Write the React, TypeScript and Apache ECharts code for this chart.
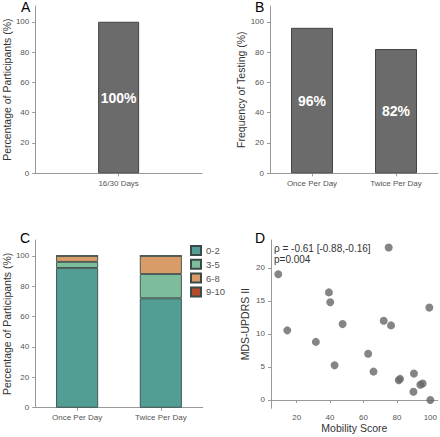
import React, { useEffect, useRef } from "react";
import * as echarts from "echarts";

const dayCategories = ["16/30 Days"];
const participantValues = [100];
const freqCategories = ["Once Per Day", "Twice Per Day"];
const freqValues = [96, 82];
const stackCategories = ["Once Per Day", "Twice Per Day"];
const binNames = ["0-2", "3-5", "6-8", "9-10"];
const bin02 = [92, 72];
const bin35 = [4, 16];
const bin68 = [4, 12];
const bin910 = [0, 0];
const binColors = ["#529e95", "#7dbd9b", "#d99b67", "#b34a2c"];
const mobilityScore = [9, 75.1, 14.4, 39.3, 40.1, 47.5, 31.5, 62.8, 72.1, 76.5, 99.4, 42.7, 66, 81.1, 81.9, 90.2, 89.9, 94, 95.4, 100];
const updrsII = [19.05, 23.1, 10.55, 16.3, 14.8, 11.5, 8.8, 7.0, 12.0, 11.3, 14.0, 5.26, 4.3, 3.0, 3.2, 4.0, 1.26, 2.3, 2.5, 0];
const pctTicks = [0, 20, 40, 60, 80, 100];
const updrsTicks = [0, 5, 10, 15, 20];
const mobilityTicks = [20, 40, 60, 80, 100];
const annotationLines = ["ρ = -0.61 [-0.88,-0.16]", "p=0.004"];
const panelLetters = ["A", "B", "C", "D"];

const FONT = "'Liberation Sans', Arial, sans-serif";
const AXIS_COLOR = "#999";
const LABEL_COLOR = "#555";
const NAME_COLOR = "#333";

function valueAxis(gridIndex: number, name: string, min: number, max: number, ticks: number[], nameGap: number, extra: any = {}) {
  return {
    type: "value",
    gridIndex,
    min,
    max,
    name,
    nameLocation: "middle",
    nameGap,
    nameTextStyle: { fontFamily: FONT, fontSize: 10.5, color: NAME_COLOR },
    splitLine: { show: false },
    axisLine: { show: true, lineStyle: { color: AXIS_COLOR, width: 1 } },
    axisTick: { show: true, length: 3, lineStyle: { color: AXIS_COLOR }, customValues: ticks },
    axisLabel: { fontFamily: FONT, fontSize: 8, color: LABEL_COLOR, margin: 6, customValues: ticks },
    ...extra,
  };
}

function categoryAxis(gridIndex: number, data: string[]) {
  return {
    type: "category",
    gridIndex,
    data,
    axisLine: { show: true, lineStyle: { color: AXIS_COLOR, width: 1 } },
    axisTick: { show: true, length: 3, alignWithLabel: true, lineStyle: { color: AXIS_COLOR } },
    axisLabel: { fontFamily: FONT, fontSize: 8, color: LABEL_COLOR, margin: 6 },
    splitLine: { show: false },
  };
}

const greyBarStyle = { color: "#6b6b6b", borderColor: "#444", borderWidth: 1 };
const barLabel = {
  show: true,
  position: "inside",
  formatter: "{c}%",
  color: "#fff",
  fontSize: 14,
  fontWeight: "bold",
  fontFamily: FONT,
};

export default function App() {
  const ref = useRef<HTMLDivElement>(null);
  useEffect(() => {
    if (!ref.current) return;
    const chart = echarts.init(ref.current, null, { renderer: "svg" });
    const pctMax = 110.4;
    const option: any = {
      animation: false,
      backgroundColor: "#fff",
      grid: [
        { left: 35, top: 6, width: 167, height: 167.3 },
        { left: 270, top: 6, width: 168, height: 167.3 },
        { left: 35, top: 240, width: 167.7, height: 167.7 },
        { left: 271, top: 240, width: 167, height: 168.3 },
      ],
      xAxis: [
        categoryAxis(0, dayCategories),
        categoryAxis(1, freqCategories),
        categoryAxis(2, stackCategories),
        valueAxis(3, "Mobility Score", 4.66, 104.4, mobilityTicks, 13, { axisLabel: { fontFamily: FONT, fontSize: 8, color: LABEL_COLOR, margin: 5, customValues: mobilityTicks } }),
      ],
      yAxis: [
        valueAxis(0, "Percentage of Participants (%)", 0, pctMax, pctTicks, 18),
        valueAxis(1, "Frequency of Testing (%)", 0, pctMax, pctTicks, 24),
        valueAxis(2, "Percentage of Participants (%)", 0, pctMax, pctTicks, 18),
        valueAxis(3, "MDS-UPDRS II", -1.26, 24.24, updrsTicks, 21),
      ],
      legend: {
        left: 190,
        top: 245,
        padding: 0,
        orient: "vertical",
        itemWidth: 10,
        itemHeight: 9,
        itemGap: 2.8,
        icon: "rect",
        data: binNames,
        textStyle: { fontFamily: FONT, fontSize: 9.5, lineHeight: 9, color: LABEL_COLOR, padding: [0, 0, 0, 0] },
      },
      series: [
        {
          type: "bar",
          xAxisIndex: 0,
          yAxisIndex: 0,
          data: participantValues,
          barWidth: 41,
          itemStyle: greyBarStyle,
          label: barLabel,
        },
        {
          type: "bar",
          xAxisIndex: 1,
          yAxisIndex: 1,
          data: freqValues,
          barWidth: 42,
          itemStyle: greyBarStyle,
          label: barLabel,
        },
        ...[bin02, bin35, bin68, bin910].map((vals, i) => ({
          type: "bar",
          name: binNames[i],
          xAxisIndex: 2,
          yAxisIndex: 2,
          stack: "bins",
          data: vals,
          barWidth: 42,
          itemStyle: { color: binColors[i], borderColor: "#3a4a48", borderWidth: 0.9 },
        })),
        {
          type: "scatter",
          xAxisIndex: 3,
          yAxisIndex: 3,
          data: mobilityScore.map((m, i) => [m, updrsII[i]]),
          symbolSize: 8,
          itemStyle: { color: "#666" },
        },
      ],
      graphic: [
        { type: "text", left: 21, top: 0, style: { text: panelLetters[0], fontFamily: FONT, fontSize: 14, fill: "#000" } },
        { type: "text", left: 255, top: 0, style: { text: panelLetters[1], fontFamily: FONT, fontSize: 14, fill: "#000" } },
        { type: "text", left: 20, top: 231, style: { text: panelLetters[2], fontFamily: FONT, fontSize: 14, fill: "#000" } },
        { type: "text", left: 255, top: 231, style: { text: panelLetters[3], fontFamily: FONT, fontSize: 14, fill: "#000" } },
        {
          type: "text",
          left: 274,
          top: 243,
          style: { text: annotationLines.join("\n"), fontFamily: FONT, fontSize: 10, lineHeight: 11, fill: "#333" },
        },
      ],
    };
    chart.setOption(option);
    return () => chart.dispose();
  }, []);
  return <div ref={ref} style={{ width: 440, height: 437, position: "absolute", left: 0, top: 0 }} />;
}
